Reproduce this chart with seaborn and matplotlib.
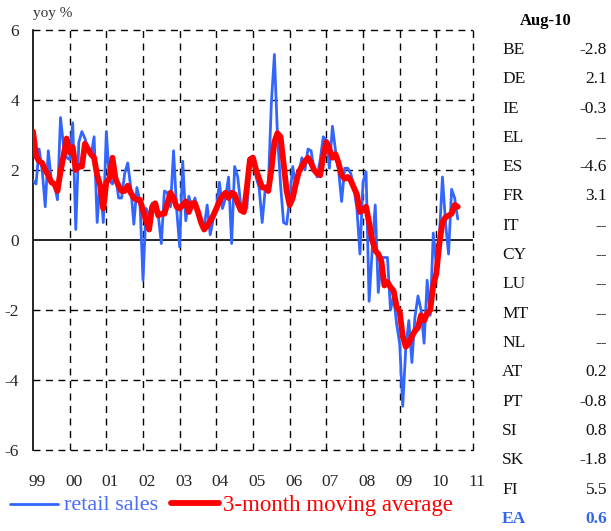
import numpy as np
import pandas as pd
import matplotlib
matplotlib.use("Agg")
import matplotlib.pyplot as plt
import matplotlib.transforms as mtransforms
import seaborn as sns

retail_sales = [
    1.7, 1.6, 2.6, 2.0, 0.95, 2.55, 1.7, 1.6, 1.15, 3.5, 2.7, 2.35,
    2.3, 3.35, 0.3, 2.8, 3.1, 2.9, 2.6, 2.4, 2.95, 0.5, 1.7, 0.5,
    3.1, 1.7, 1.6, 1.9, 1.2, 1.2, 1.9, 2.2, 1.5, 0.45, 1.5, 1.1,
    -1.15, 0.9, 0.7, 1.05, 1.05, 0.7, -0.1, 1.4, 1.35, 0.95, 2.55, 0.9,
    -0.2, 2.25, 0.55, 1.25, 0.9, 1.2, 0.7, 0.5, 0.35, 1.0, 0.15, 0.6,
    0.9, 1.65, 0.9, 1.2, 1.8, -0.1, 2.1, 1.8, 1.0, 0.95, 0.9, 2.35,
    2.4, 1.8, 1.5, 0.5, 1.45, 1.5, 3.9, 5.3, 3.0, 1.6, 0.5, 0.45,
    1.15, 2.1, 1.5, 1.9, 2.35, 2.0, 2.6, 2.55, 2.0, 1.8, 2.3, 2.95,
    2.85, 2.05, 3.25, 2.55, 2.0, 1.1, 2.05, 2.05, 1.9, 1.5, 0.9, -0.4,
    1.65, 1.95, -1.75, -0.3, 1.0, -1.5, -0.5, -0.5, -0.5, -2.0, -1.6, -2.4,
    -2.95, -4.75, -3.1, -2.3, -3.5, -2.2, -1.6, -2.0, -2.95, -1.15, -2.15, 0.2,
    -0.7, 0.1, 1.8, 0.5, -0.4, 1.45, 1.2, 0.6,
]
moving_average = [
    3.1, 2.4, 2.25, 2.2, 2.0, 1.85, 1.65, 1.6, 1.4, 1.95, 2.4, 2.9,
    2.5, 2.65, 2.0, 2.1, 2.1, 2.75, 2.6, 2.45, 2.35, 1.85, 1.55, 0.9,
    1.65, 1.75, 2.35, 1.75, 1.55, 1.4, 1.4, 1.55, 1.35, 1.2, 1.15, 1.15,
    0.85, 0.55, 0.3, 0.95, 1.05, 0.7, 0.75, 0.75, 1.05, 1.35, 1.2, 0.95,
    0.9, 1.0, 1.1, 0.8, 1.05, 1.05, 0.8, 0.5, 0.3, 0.4, 0.55, 0.7,
    0.9, 1.1, 1.25, 1.35, 1.2, 1.35, 1.3, 1.05, 0.85, 0.8, 1.5, 2.3,
    2.35, 2.0, 1.75, 1.5, 1.5, 1.4, 2.0, 2.8, 3.05, 2.95, 2.2, 1.4,
    1.0, 1.2, 1.6, 1.95, 2.1, 2.25, 2.35, 2.2, 2.0, 1.9, 1.85, 2.4,
    2.8, 2.6, 2.35, 2.45, 2.2, 1.85, 1.75, 1.8, 1.7, 1.5, 1.3, 0.8,
    0.85, 0.95, 0.5, 0.0, -0.3, -0.4, -0.6, -1.3, -1.2, -1.35, -1.45, -1.9,
    -2.05, -2.75, -3.05, -2.95, -2.75, -2.6, -2.5, -2.15, -2.3, -2.1, -2.0, -1.3,
    -0.95, -0.1, 0.5, 0.65, 0.7, 0.75, 1.0, 0.95,
]
year_ticks = list(range(1999, 2012))
year_labels = ["99", "00", "01", "02", "03", "04", "05", "06", "07", "08", "09", "10", "11"]
y_ticks = [-6, -4, -2, 0, 2, 4, 6]

countries = ["BE", "DE", "IE", "EL", "ES", "FR", "IT", "CY", "LU", "MT", "NL",
             "AT", "PT", "SI", "SK", "FI", "EA"]
country_values = ["-2.8", "2.1", "-0.3", "--", "-4.6", "3.1", "--", "--", "--", "--", "--",
                  "0.2", "-0.8", "0.8", "-1.8", "5.5", "0.6"]

sns.set_theme(style="white")
plt.rcParams["font.family"] = ["Liberation Serif", "DejaVu Serif"]

n = len(retail_sales)
t = 1999 + np.arange(n) / 12.0
df = pd.DataFrame({"t": t, "retail": retail_sales, "ma": moving_average})

BLUE = "#3366ff"
RED = "#ff0000"

fig = plt.figure(figsize=(6.11, 5.31), dpi=100)
ax = fig.add_axes([33 / 611, 1 - 450 / 531, 440 / 611, 420 / 531])

ax.set_xlim(1999, 2011)
ax.set_ylim(-6, 6)

# grid
for yv in [-6, -4, -2, 2, 4, 6]:
    ax.axhline(yv, color="black", lw=1.0, ls=(0, (5, 4)), clip_on=False, zorder=1)
for xv in range(2000, 2012):
    ax.axvline(xv, color="black", lw=1.0, ls=(0, (5, 4)), clip_on=False, zorder=1)
ax.axhline(0, color="black", lw=1.2, zorder=1)

sns.lineplot(data=df, x="t", y="retail", ax=ax, color=BLUE, lw=2.0, zorder=3)
sns.lineplot(data=df, x="t", y="ma", ax=ax, color=RED, lw=4.2, zorder=4)

for s in ["top", "right", "bottom"]:
    ax.spines[s].set_visible(False)
ax.spines["left"].set_color("black")
ax.spines["left"].set_linewidth(1.2)

ax.set_xticks(year_ticks)
ax.set_xticklabels(year_labels, fontsize=12.5)
ax.set_yticks(y_ticks)
ax.set_yticklabels([str(v) for v in y_ticks], fontsize=12.5)
ax.tick_params(axis="x", length=0, pad=17)
ax.tick_params(axis="y", length=0, pad=10)
offset = mtransforms.ScaledTranslation(4 / 100, 0, fig.dpi_scale_trans)
for lab in ax.get_xticklabels():
    lab.set_transform(lab.get_transform() + offset)
ax.set_xlabel("")
ax.set_ylabel("")
ax.grid(False)

fig.text(33 / 611, 1 - 14 / 531, "yoy %", fontsize=11, ha="left", va="center", color="#333333")

# legend
fig.add_artist(plt.Line2D([10 / 611, 58 / 611], [1 - 504 / 531] * 2, color=BLUE, lw=2.0))
fig.text(64 / 611, 1 - 505 / 531, "retail sales", fontsize=16, color="#4a6cf7", ha="left", va="center")
fig.add_artist(plt.Line2D([171 / 611, 219 / 611], [1 - 503 / 531] * 2, color=RED, lw=4.2,
                          solid_capstyle="round"))
fig.text(223 / 611, 1 - 505 / 531, "3-month moving average", fontsize=16.5, color=RED,
         ha="left", va="center")

# table
fig.text(546 / 611, 1 - 21 / 531, "Aug-10", fontsize=12, fontweight="bold", ha="center",
         va="center", color="black")
for i, (c, v) in enumerate(zip(countries, country_values)):
    y = 1 - (50 + i * 29.3) / 531
    last = c == "EA"
    col = "#3366ee" if last else "#111111"
    fw = "bold" if last else "normal"
    fig.text(502 / 611, y, c, fontsize=12.5, ha="left", va="center", color=col, fontweight=fw)
    fig.text(607 / 611, y, v, fontsize=12.5, ha="right", va="center", color=col, fontweight=fw)

fig.savefig("out.png", dpi=100)
